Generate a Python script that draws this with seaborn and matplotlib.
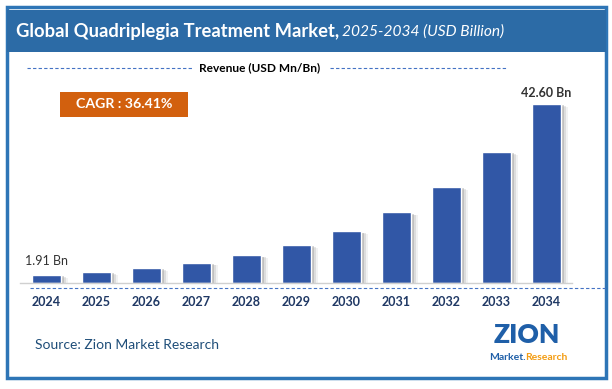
import numpy as np
import pandas as pd
import matplotlib
matplotlib.use('Agg')
import matplotlib.pyplot as plt
import matplotlib.patheffects as pe
from matplotlib.patches import Rectangle
from matplotlib.lines import Line2D
import seaborn as sns

# data
years = ['2024', '2025', '2026', '2027', '2028', '2029',
         '2030', '2031', '2032', '2033', '2034']
revenue = [1.91, 2.61, 3.55, 4.84, 6.60, 9.01, 12.29, 16.77, 22.88, 31.20, 42.60]
first_label = '1.91 Bn'
last_label = '42.60 Bn'
cagr_text = 'CAGR : 36.41%'

df = pd.DataFrame({'year': years, 'revenue': revenue})

sns.set_theme(style='white')
plt.rcParams['font.family'] = ['Lato', 'DejaVu Sans']

W, H = 612, 389
fig = plt.figure(figsize=(W / 100, H / 100), dpi=100)

def fx(px):
    return px / W

def fy(py):
    return 1 - py / H

# outer frame and title band
fig.patches.append(Rectangle((fx(7), fy(378)), fx(599), (371) / H,
                             transform=fig.transFigure, facecolor='white',
                             edgecolor='#2E75B6', linewidth=2.5, zorder=-10))
fig.patches.append(Rectangle((fx(7), fy(52)), fx(599), 42 / H,
                             transform=fig.transFigure, facecolor='#2C6BA6',
                             edgecolor='none', zorder=-9))
t1 = fig.text(fx(16), fy(32), 'Global Quadriplegia Treatment Market,',
              color='white', fontsize=13.2, fontweight='bold', va='center')
fig.canvas.draw()
bb = t1.get_window_extent()
fig.text(bb.x1 / W + fx(3), fy(32), '2025-2034 (USD Billion)', color='white',
         fontsize=11.2, fontstyle='italic', va='center')

# subtitle with dashed rules
fig.text(fx(260), fy(68), 'Revenue (USD Mn/Bn)', color='black', fontsize=8.6,
         fontweight='bold', ha='center', va='center')
for x0, x1 in [(27, 192), (330, 506)]:
    fig.lines.append(Line2D([fx(x0), fx(x1)], [fy(68), fy(68)],
                            transform=fig.transFigure, color='#4472C4',
                            linestyle=(0, (3, 2)), linewidth=0.8))

# CAGR box
fig.patches.append(Rectangle((fx(60), fy(117)), fx(128), 25 / H,
                             transform=fig.transFigure, facecolor='#D2600E',
                             edgecolor='none', zorder=2))
fig.text(fx(124), fy(104.5), cagr_text, color='white', fontsize=10.2,
         fontweight='bold', ha='center', va='center', zorder=3)

# bar chart
ax = fig.add_axes([fx(20), fy(283), fx(552), (283 - 95) / H])
sns.barplot(data=df, x='year', y='revenue', color='#3157A6', width=0.58,
            saturation=1, ax=ax, zorder=2)
# soft shadow to the right of each bar
for bar in ax.patches:
    bar.set_path_effects([
        pe.SimplePatchShadow(offset=(5, -2), shadow_rgbFace='#9a9a9a', alpha=0.12),
        pe.SimplePatchShadow(offset=(3.5, -1.5), shadow_rgbFace='#8a8a8a', alpha=0.2),
        pe.SimplePatchShadow(offset=(2, -1), shadow_rgbFace='#7a7a7a', alpha=0.3),
        pe.Normal()])
ax.set_xlim(-0.53, 10.51)
ax.set_ylim(0, 44.7)
ax.set_xlabel('')
ax.set_ylabel('')
ax.set_yticks([])
for side in ['top', 'right', 'left']:
    ax.spines[side].set_visible(False)
ax.spines['bottom'].set_color('#d0d0d0')
ax.spines['bottom'].set_linewidth(1)
ax.spines['bottom'].set_zorder(3)
ax.patch.set_alpha(0)
ax.tick_params(axis='x', length=0, pad=9)
for lbl in ax.get_xticklabels():
    lbl.set_fontweight('bold')
    lbl.set_color('#1F3864')
    lbl.set_fontsize(9)

ax.text(0, revenue[0] + 1.9, first_label, ha='center', va='bottom',
        fontsize=9, color='#333333')
ax.text(10, revenue[-1] + 1.2, last_label, ha='center', va='bottom',
        fontsize=9, color='#333333', fontweight='bold')

# dashed rule under the axis
fig.lines.append(Line2D([fx(30), fx(606)], [fy(288), fy(288)],
                        transform=fig.transFigure, color='#4472C4',
                        linestyle=(0, (3, 2)), linewidth=0.8))

# source and logo
fig.text(fx(35), fy(345), 'Source: Zion Market Research', color='#1F4E79',
         fontsize=10, va='center')
fig.text(fx(527), fy(335), 'ZION', color='#1F5FA8', fontsize=19,
         fontweight='heavy', ha='center', va='center')
t2 = fig.text(fx(489), fy(357), 'Market.', color='#1F5FA8', fontsize=7.5,
              fontweight='bold', va='center')
fig.canvas.draw()
bb2 = t2.get_window_extent()
fig.text(bb2.x1 / W, fy(357), 'Research', color='#F39C12', fontsize=7.5,
         fontweight='bold', va='center')

fig.savefig('out.png', dpi=100)
